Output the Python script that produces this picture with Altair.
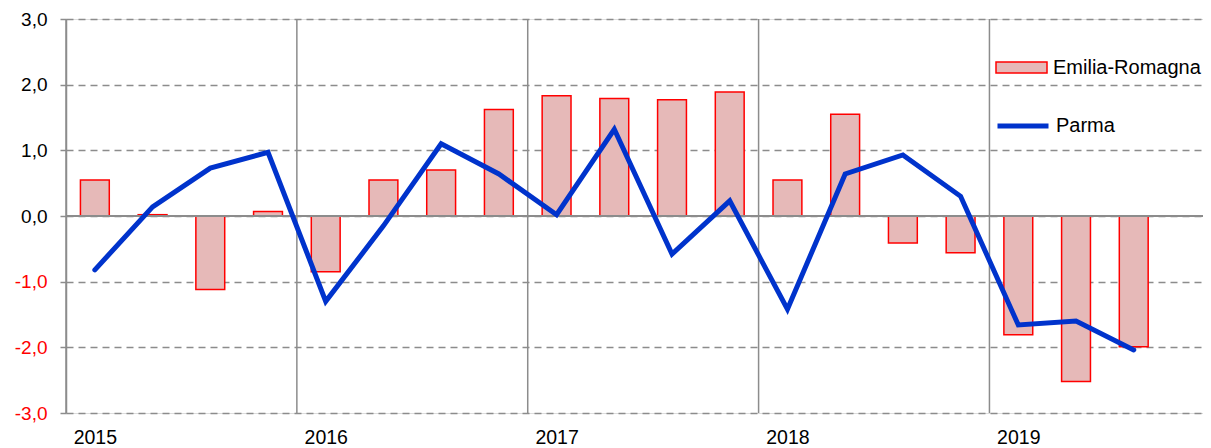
import altair as alt
import pandas as pd

years = ["2015", "2016", "2017", "2018", "2019"]
quarters = ["2015 T1", "2015 T2", "2015 T3", "2015 T4",
            "2016 T1", "2016 T2", "2016 T3", "2016 T4",
            "2017 T1", "2017 T2", "2017 T3", "2017 T4",
            "2018 T1", "2018 T2", "2018 T3", "2018 T4",
            "2019 T1", "2019 T2", "2019 T3"]
emilia = [0.55, 0.02, -1.12, 0.07, -0.85, 0.55, 0.70, 1.62, 1.83, 1.79, 1.77, 1.89,
          0.55, 1.55, -0.41, -0.56, -1.81, -2.52, -1.99]
parma = [-0.82, 0.14, 0.73, 0.97, -1.30, -0.15, 1.10, 0.64, 0.02, 1.32, -0.58, 0.23,
         -1.42, 0.64, 0.93, 0.30, -1.66, -1.60, -2.04]
y_ticks = [-3, -2, -1, 0, 1, 2, 3]

df = pd.DataFrame({"quarter": quarters, "idx": list(range(len(quarters))),
                   "er": emilia, "parma": parma})
year_df = pd.DataFrame({"year": years, "start": [quarters.index(y + " T1") for y in years]})

FONT = "Liberation Sans"
GRID = "#8c8c8c"

xscale = alt.Scale(domain=[0, 19.7], nice=False, zero=False)
yscale = alt.Scale(domain=[-3, 3], nice=False)

year_list = "[" + ",".join("'%s'" % y for y in years) + "]"

base = alt.Chart(df).transform_calculate(
    xc="datum.idx + 0.5", xl="datum.idx + 0.25", xr="datum.idx + 0.75",
    s1="'Emilia-Romagna'", s2="'Parma'")

vrules = alt.Chart(year_df).mark_rule(color=GRID, strokeWidth=1.5).encode(
    x=alt.X("start:Q", scale=xscale,
            axis=alt.Axis(values=[i + 0.5 for i in year_df["start"]],
                          labelExpr=year_list + "[floor(datum.value / 4)]",
                          title=None, ticks=False, domain=False, grid=False,
                          labelFont=FONT, labelFontSize=19.5, labelColor="black",
                          labelPadding=15, labelFlush=False)))

bars = base.mark_bar(stroke="red", strokeWidth=1.5).encode(
    x=alt.X("xl:Q", scale=xscale),
    x2="xr:Q",
    y=alt.Y("er:Q", scale=yscale,
            axis=alt.Axis(values=y_ticks, title=None,
                          labelExpr="(datum.value < 0 ? '-' : '') + replace(format(abs(datum.value), '.1f'), '.', ',')",
                          labelColor=alt.condition("datum.value < 0", alt.value("red"), alt.value("black")),
                          labelFont=FONT, labelFontSize=19, labelPadding=13,
                          tickSize=6, tickColor=GRID, tickWidth=1.5,
                          domainColor=GRID, domainWidth=1.5,
                          grid=True, gridColor=GRID, gridWidth=1.5, gridDash=[7, 5])),
    y2=alt.datum(0),
    fill=alt.Fill("s1:N", scale=alt.Scale(domain=["Emilia-Romagna"], range=["#E6B9B8"]),
                  legend=alt.Legend(orient="none", legendX=929, legendY=22, title=None,
                                    symbolType="M-1,-0.22H1V0.22H-1Z", symbolSize=2601,
                                    symbolStrokeColor="red", symbolStrokeWidth=1.5,
                                    symbolFillColor="#E6B9B8",
                                    labelFont=FONT, labelFontSize=20, labelColor="black",
                                    labelOffset=5, padding=0)))

zero = alt.Chart(df).mark_rule(color=GRID, strokeWidth=1.5).encode(
    y=alt.datum(0, scale=yscale))

line = base.mark_line(strokeWidth=5, strokeCap="round").encode(
    x=alt.X("xc:Q", scale=xscale),
    y=alt.Y("parma:Q", scale=yscale),
    stroke=alt.Stroke("s2:N", scale=alt.Scale(domain=["Parma"], range=["#0033CC"]),
                      legend=alt.Legend(orient="none", legendX=929, legendY=79, title=None,
                                        symbolType="stroke", symbolSize=2601,
                                        symbolStrokeWidth=5,
                                        labelFont=FONT, labelFontSize=20, labelColor="black",
                                        labelOffset=5, padding=0)))

chart = alt.layer(vrules, bars, zero, line).resolve_scale(
    fill="independent", stroke="independent"
).properties(
    width=1137, height=394,
    autosize=alt.AutoSizeParams(type="none"),
    padding={"left": 58, "top": 11, "right": 0, "bottom": 40},
).configure_view(stroke=None).configure(background="white")

chart.save("out.html", embed_options={"renderer": "svg", "actions": False})
